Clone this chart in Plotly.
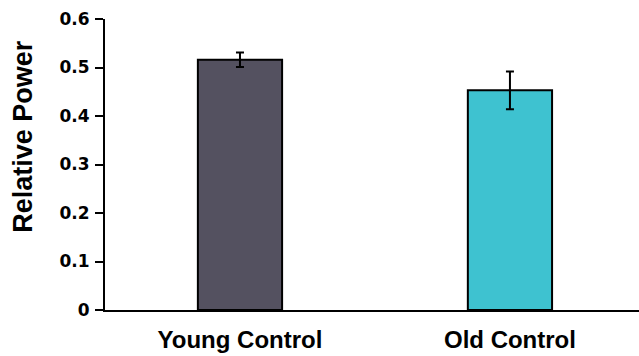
import plotly.graph_objects as go

# Relative power per group, with standard error
groups = ["Young Control", "Old Control"]
relative_power = [0.516, 0.453]
sem = [0.015, 0.039]
bar_colors = ["#545160", "#3EC2D0"]
y_ticks = [0, 0.1, 0.2, 0.3, 0.4, 0.5, 0.6]
y_tick_labels = ["0", "0.1", "0.2", "0.3", "0.4", "0.5", "0.6"]

positions = list(range(len(groups)))

fig = go.Figure()
fig.add_trace(go.Bar(
    x=positions,
    y=relative_power,
    width=0.312,
    marker=dict(color=bar_colors, line=dict(color="black", width=2)),
    error_y=dict(type="data", array=sem, visible=True,
                 color="black", thickness=2, width=4),
    showlegend=False,
))

font_family = "Liberation Sans, Arial, sans-serif"
tick_family = "DejaVu Sans, Liberation Sans, sans-serif"

fig.update_layout(
    width=639,
    height=356,
    margin=dict(l=105, r=0, t=19, b=46),
    paper_bgcolor="white",
    plot_bgcolor="white",
    font=dict(family=font_family, color="black"),
    xaxis=dict(
        range=[-0.5, 1.478],
        tickmode="array",
        tickvals=positions,
        ticktext=[f"<b>{g}</b>" for g in groups],
        tickfont=dict(size=24, family=font_family, color="black"),
        ticks="",
        ticklabelstandoff=7,
        showline=True,
        linecolor="black",
        linewidth=2,
        showgrid=False,
        zeroline=False,
        fixedrange=True,
    ),
    yaxis=dict(
        range=[0, 0.6],
        tickmode="array",
        tickvals=y_ticks,
        ticktext=[f"<b>{t}</b>" for t in y_tick_labels],
        tickfont=dict(size=17, family=tick_family, color="black"),
        ticks="outside",
        ticklen=8,
        tickwidth=2,
        tickcolor="black",
        ticklabelstandoff=2,
        showline=True,
        linecolor="black",
        linewidth=2,
        showgrid=False,
        zeroline=False,
        fixedrange=True,
    ),
    annotations=[dict(
        text="<b>Relative Power</b>",
        xref="paper", yref="paper",
        x=-0.154, y=0.598,
        xanchor="center", yanchor="middle",
        textangle=-90,
        showarrow=False,
        font=dict(size=27, family=font_family, color="black"),
    )],
)

fig.write_html("out.html")
